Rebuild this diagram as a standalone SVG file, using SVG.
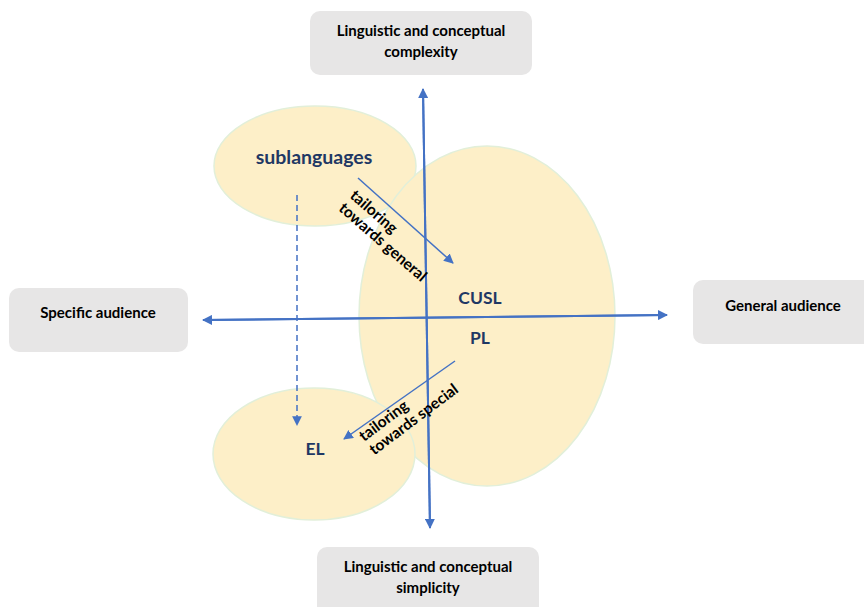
<svg xmlns="http://www.w3.org/2000/svg" width="864" height="607" viewBox="0 0 864 607">
<style>
.box{fill:#e7e6e6;stroke:none}
.bt{font-family:Lato,"Liberation Sans",sans-serif;font-weight:bold;font-size:15px;fill:#000;text-anchor:middle}
.ell{fill:#fdefc8;stroke:#e2efd9;stroke-width:1.5}
.nl{font-family:Lato,"Liberation Sans",sans-serif;font-weight:bold;fill:#1f3864;text-anchor:middle}
.ax{stroke:#4472c4;stroke-width:2;fill:none}
.ar{stroke:#4472c4;stroke-width:1.5;fill:none}
.lbl{font-family:Lato,"Liberation Sans",sans-serif;font-weight:bold;font-size:15.5px;fill:#000}
</style>
<defs>
<marker id="ah" viewBox="0 0 10 10" refX="9" refY="5" markerWidth="5" markerHeight="5" orient="auto" markerUnits="strokeWidth">
<path d="M0,0 L10,5 L0,10 z" fill="#4472c4"/>
</marker>
<marker id="ah2" viewBox="0 0 10 10" refX="9" refY="5" markerWidth="6.5" markerHeight="6.5" orient="auto" markerUnits="strokeWidth">
<path d="M0,0 L10,5 L0,10 z" fill="#4472c4"/>
</marker>
</defs>
<rect width="864" height="607" fill="#fff"/>
<g id="sublanguages">
<ellipse class="ell" cx="315" cy="166" rx="101" ry="60"/>
<text class="nl" x="314" y="164" font-size="19.5">sublanguages</text>
</g>
<g id="cusl-pl">
<ellipse class="ell" cx="487" cy="316" rx="128" ry="170"/>
<text class="nl" x="480" y="304" font-size="17.5">CUSL</text>
<text class="nl" x="480" y="344" font-size="17.5">PL</text>
</g>
<g id="el">
<ellipse class="ell" cx="314" cy="454" rx="101" ry="66"/>
<text class="nl" x="315" y="455" font-size="17.5">EL</text>
</g>
<g id="complexity">
<rect class="box" x="310" y="11" width="222" height="64" rx="10"/>
<text class="bt" x="421" y="36">Linguistic and conceptual</text>
<text class="bt" x="421" y="57">complexity</text>
</g>
<g id="simplicity">
<rect class="box" x="317" y="547" width="222" height="70" rx="10"/>
<text class="bt" x="428" y="572">Linguistic and conceptual</text>
<text class="bt" x="428" y="593">simplicity</text>
</g>
<g id="specific">
<rect class="box" x="9" y="288" width="179" height="64" rx="10"/>
<text class="bt" x="98" y="318">Specific audience</text>
</g>
<g id="general">
<rect class="box" x="693" y="280" width="190" height="64" rx="10"/>
<text class="bt" x="783" y="311">General audience</text>
</g>
<g id="connectors">
<line class="ax" x1="430" y1="528" x2="423" y2="89" marker-end="url(#ah)"/>
<line class="ax" x1="423" y1="89" x2="430" y2="528" marker-end="url(#ah)"/>
<line class="ax" x1="667" y1="315" x2="203" y2="320" marker-end="url(#ah)"/>
<line class="ax" x1="203" y1="320" x2="667" y2="315" marker-end="url(#ah)"/>
<line class="ar" x1="297" y1="195" x2="297" y2="425" stroke-dasharray="6,4" marker-end="url(#ah2)"/>
<line class="ar" x1="358" y1="178" x2="453" y2="263" marker-end="url(#ah2)"/>
<line class="ar" x1="455" y1="361" x2="344" y2="439" marker-end="url(#ah2)"/>
<g transform="translate(349,197) rotate(41)">
<text class="lbl" x="0" y="0">tailoring</text>
<text class="lbl" x="0" y="17">towards general</text>
</g>
<g transform="translate(364,442) rotate(-37)">
<text class="lbl" x="0" y="0">tailoring</text>
<text class="lbl" x="0" y="17">towards special</text>
</g>
</g>
</svg>
